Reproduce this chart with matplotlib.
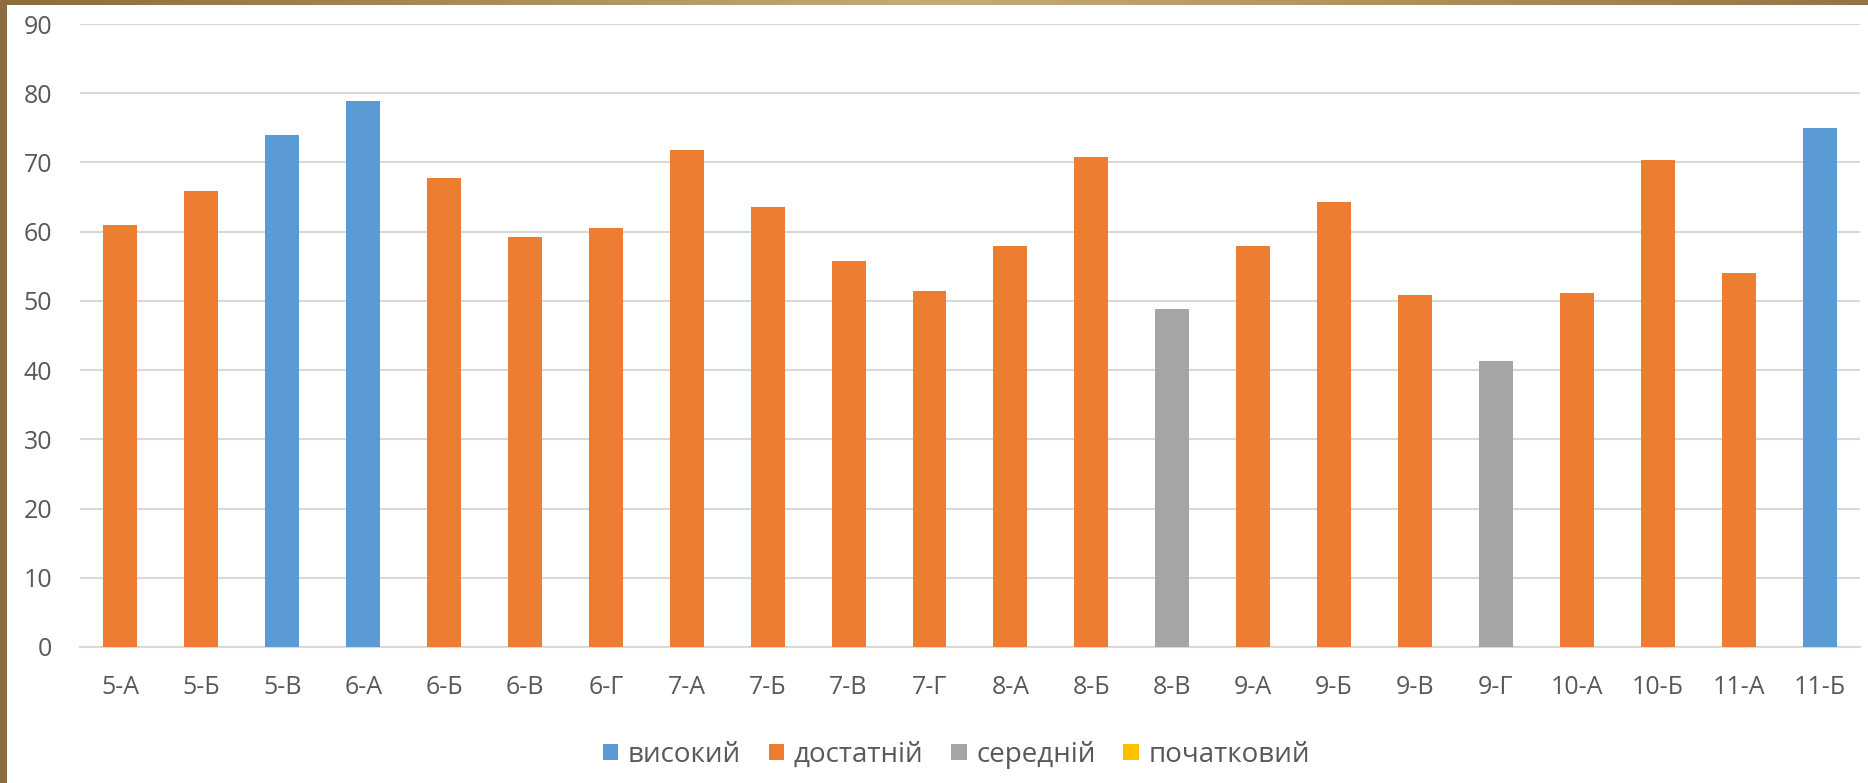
import numpy as np
import matplotlib
matplotlib.use("Agg")
import matplotlib.pyplot as plt
from matplotlib.patches import Patch
from matplotlib.colors import LinearSegmentedColormap

plt.rcParams['font.family'] = ['Open Sans', 'DejaVu Sans']

# ---------------------------------- data
classes = ["5-А", "5-Б", "5-В", "6-А", "6-Б", "6-В", "6-Г", "7-А", "7-Б", "7-В", "7-Г",
           "8-А", "8-Б", "8-В", "9-А", "9-Б", "9-В", "9-Г", "10-А", "10-Б", "11-А", "11-Б"]
scores = [61.0, 65.9, 74.0, 78.9, 67.8, 59.3, 60.6, 71.8, 63.5, 55.7, 51.5,
          58.0, 70.8, 48.9, 58.0, 64.3, 50.8, 41.3, 51.1, 70.4, 54.1, 75.0]
# рівень для кожного класу
levels = ["достатній", "достатній", "високий", "високий", "достатній", "достатній",
          "достатній", "достатній", "достатній", "достатній", "достатній", "достатній",
          "достатній", "середній", "достатній", "достатній", "достатній", "середній",
          "достатній", "достатній", "достатній", "високий"]
level_names = ["високий", "достатній", "середній", "початковий"]
level_colors = ["#5b9bd5", "#ed7d31", "#a5a5a5", "#ffc000"]
y_ticks = [0, 10, 20, 30, 40, 50, 60, 70, 80, 90]

# ---------------------------------- figure
fig = plt.figure(figsize=(18.68, 7.83), dpi=100)
fig.patch.set_facecolor("white")

ax = fig.add_axes([0.0428, 0.1737, 0.9529, 0.7956])
x = np.arange(len(classes))
for name, col in zip(level_names, level_colors):
    vals = [s if lv == name else np.nan for s, lv in zip(scores, levels)]
    ax.bar(x, vals, width=0.42, color=col, edgecolor="none", zorder=3)

ax.set_xlim(-0.5, len(classes) - 0.5)
ax.set_ylim(0, 90)
ax.set_yticks(y_ticks)
ax.set_xticks(x)
ax.set_xticklabels(classes)
ax.tick_params(axis="both", length=0, labelsize=18, labelcolor="#595959")
ax.tick_params(axis="x", pad=20)
ax.tick_params(axis="y", pad=20)
ax.grid(axis="y", color="#d9d9d9", linewidth=1.5, zorder=0)
for s in ["top", "right", "left"]:
    ax.spines[s].set_visible(False)
ax.spines["bottom"].set_color("#d9d9d9")
ax.spines["bottom"].set_linewidth(1.5)

handles = [Patch(facecolor=c, edgecolor="none") for c in level_colors]
fig.legend(handles, level_names, loc="center", bbox_to_anchor=(0.512, 0.036),
           ncol=4, frameon=False, fontsize=20, labelcolor="#595959",
           handlelength=0.55, handleheight=0.55, handletextpad=0.35, columnspacing=1.0)

# ---------------------------------- decorative frame
frame_cmap = LinearSegmentedColormap.from_list(
    "frame", ["#8d6c40", "#a88a5c", "#c7aa7c", "#b09060", "#93734a"])
top = fig.add_axes([0, 1 - 5 / 783, 1, 5 / 783])
top.imshow(np.linspace(0, 1, 256)[None, :], aspect="auto", cmap=frame_cmap)
top.axis("off")
left = fig.add_axes([0, 0, 7 / 1868, 1])
left.imshow(np.zeros((2, 2)), aspect="auto",
            cmap=LinearSegmentedColormap.from_list("l", ["#8d6c40", "#8d6c40"]))
left.axis("off")

fig.savefig("out.png", dpi=100)
